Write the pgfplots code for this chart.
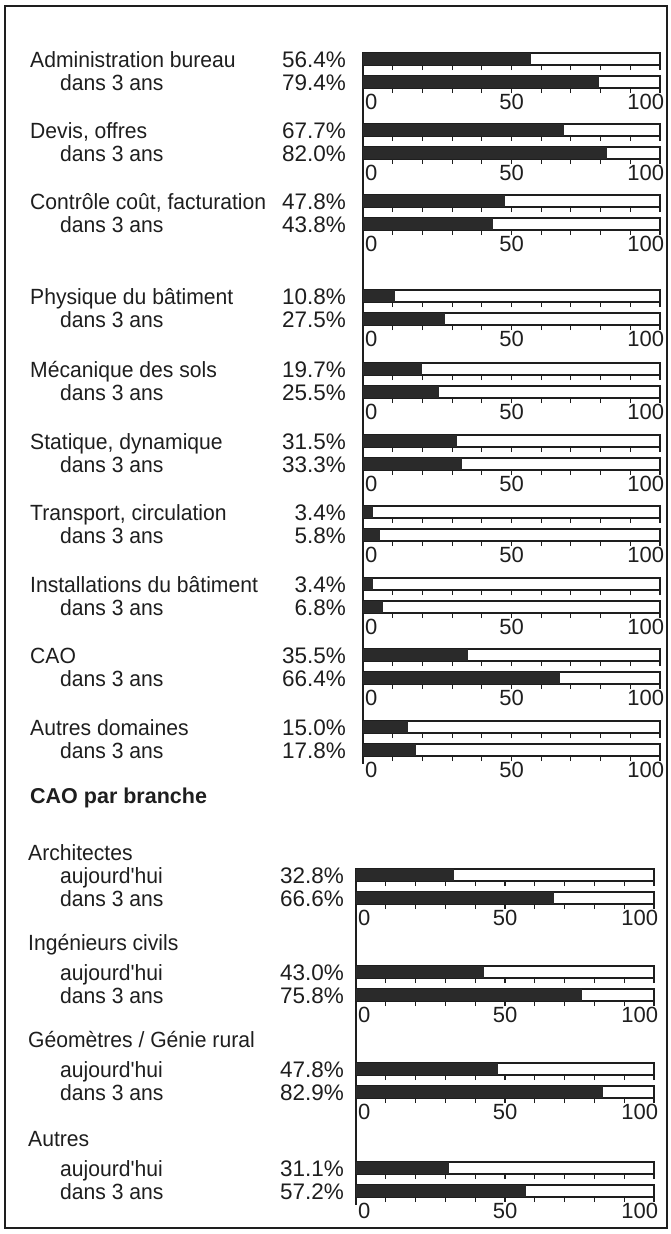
\documentclass[border=0pt]{standalone}
\usepackage{pgfplots}
\pgfplotsset{compat=1.18}
\usepackage{fontspec}
\setmainfont{Liberation Sans}
\newfontfamily\condfont{Liberation Sans}[FakeStretch=0.96]
\definecolor{ink}{HTML}{1E1E1E}
\definecolor{barc}{HTML}{2A2A2A}
\newcommand{\lbl}{\fontsize{22.5}{24}\selectfont}
\newcommand{\clbl}{\condfont\fontsize{22}{24}\selectfont}
\newcommand{\tlbl}{\fontsize{22}{24}\selectfont}
\pgfplotsset{
  brow/.style={scale only axis, width=297pt, height=12pt, anchor=north west,
    xmin=0, xmax=100, ymin=0, ymax=1,
    xtick={0,10,...,100}, ytick=\empty,
    xtick pos=left, tick align=outside, major tick length=5pt,
    axis line style={line width=1.2pt, draw=ink},
    tick style={line width=1.1pt, draw=ink},
    xticklabels={,,,,,,,,,,}},
  brow2/.style={brow, width=298pt},
  lab/.style={xticklabels={\rlap{\hspace{2pt}0},,,,,50,,,,,\llap{100\hspace{-4pt}}},
    xticklabel style={font=\tlbl, inner sep=1pt, text=ink}},
  dk/.style={xbar, bar width=12pt, bar shift=0pt, fill=barc, draw=none},
}
\begin{document}
\begin{tikzpicture}
\path (0pt,0pt) rectangle (671pt,-1234pt);
\draw[line width=1.4pt, ink] (5pt,-6pt) rectangle (667pt,-1228pt);
\draw[line width=1.2pt, ink] (363pt,-53pt) -- (363pt,-764pt);
\draw[line width=1.2pt, ink] (356pt,-869pt) -- (356pt,-1205pt);

% ---------- top section ----------
\begin{axis}[brow, at={(363pt,-53pt)}]\addplot[dk] coordinates {(56.4,0.5)};\end{axis}
\begin{axis}[brow, lab, at={(363pt,-76pt)}]\addplot[dk] coordinates {(79.4,0.5)};\end{axis}
\begin{axis}[brow, at={(363pt,-124pt)}]\addplot[dk] coordinates {(67.7,0.5)};\end{axis}
\begin{axis}[brow, lab, at={(363pt,-147pt)}]\addplot[dk] coordinates {(82.0,0.5)};\end{axis}
\begin{axis}[brow, at={(363pt,-195pt)}]\addplot[dk] coordinates {(47.8,0.5)};\end{axis}
\begin{axis}[brow, lab, at={(363pt,-218pt)}]\addplot[dk] coordinates {(43.8,0.5)};\end{axis}
\begin{axis}[brow, at={(363pt,-290pt)}]\addplot[dk] coordinates {(10.8,0.5)};\end{axis}
\begin{axis}[brow, lab, at={(363pt,-313pt)}]\addplot[dk] coordinates {(27.5,0.5)};\end{axis}
\begin{axis}[brow, at={(363pt,-363pt)}]\addplot[dk] coordinates {(19.7,0.5)};\end{axis}
\begin{axis}[brow, lab, at={(363pt,-386pt)}]\addplot[dk] coordinates {(25.5,0.5)};\end{axis}
\begin{axis}[brow, at={(363pt,-435pt)}]\addplot[dk] coordinates {(31.5,0.5)};\end{axis}
\begin{axis}[brow, lab, at={(363pt,-458pt)}]\addplot[dk] coordinates {(33.3,0.5)};\end{axis}
\begin{axis}[brow, at={(363pt,-506pt)}]\addplot[dk] coordinates {(3.4,0.5)};\end{axis}
\begin{axis}[brow, lab, at={(363pt,-529pt)}]\addplot[dk] coordinates {(5.8,0.5)};\end{axis}
\begin{axis}[brow, at={(363pt,-578pt)}]\addplot[dk] coordinates {(3.4,0.5)};\end{axis}
\begin{axis}[brow, lab, at={(363pt,-601pt)}]\addplot[dk] coordinates {(6.8,0.5)};\end{axis}
\begin{axis}[brow, at={(363pt,-649pt)}]\addplot[dk] coordinates {(35.5,0.5)};\end{axis}
\begin{axis}[brow, lab, at={(363pt,-672pt)}]\addplot[dk] coordinates {(66.4,0.5)};\end{axis}
\begin{axis}[brow, at={(363pt,-721pt)}]\addplot[dk] coordinates {(15.0,0.5)};\end{axis}
\begin{axis}[brow, lab, at={(363pt,-744pt)}]\addplot[dk] coordinates {(17.8,0.5)};\end{axis}

% ---------- bottom section ----------
\begin{axis}[brow2, at={(356pt,-869pt)}]\addplot[dk] coordinates {(32.8,0.5)};\end{axis}
\begin{axis}[brow2, lab, at={(356pt,-892pt)}]\addplot[dk] coordinates {(66.6,0.5)};\end{axis}
\begin{axis}[brow2, at={(356pt,-966pt)}]\addplot[dk] coordinates {(43.0,0.5)};\end{axis}
\begin{axis}[brow2, lab, at={(356pt,-989pt)}]\addplot[dk] coordinates {(75.8,0.5)};\end{axis}
\begin{axis}[brow2, at={(356pt,-1063pt)}]\addplot[dk] coordinates {(47.8,0.5)};\end{axis}
\begin{axis}[brow2, lab, at={(356pt,-1086pt)}]\addplot[dk] coordinates {(82.9,0.5)};\end{axis}
\begin{axis}[brow2, at={(356pt,-1162pt)}]\addplot[dk] coordinates {(31.1,0.5)};\end{axis}
\begin{axis}[brow2, lab, at={(356pt,-1185pt)}]\addplot[dk] coordinates {(57.2,0.5)};\end{axis}

% ---------- text ----------
\begin{scope}[every node/.style={font=\clbl, text=ink, inner sep=0pt}]
\node[anchor=base west] at (30pt,-67pt) {Administration bureau};
\node[anchor=base west] at (60pt,-90pt) {dans 3 ans};
\node[anchor=base west] at (30pt,-138pt) {Devis, offres};
\node[anchor=base west] at (60pt,-161pt) {dans 3 ans};
\node[anchor=base west] at (30pt,-209pt) {Contrôle coût, facturation};
\node[anchor=base west] at (60pt,-232pt) {dans 3 ans};
\node[anchor=base west] at (30pt,-304pt) {Physique du bâtiment};
\node[anchor=base west] at (60pt,-327pt) {dans 3 ans};
\node[anchor=base west] at (30pt,-377pt) {Mécanique des sols};
\node[anchor=base west] at (60pt,-400pt) {dans 3 ans};
\node[anchor=base west] at (30pt,-449pt) {Statique, dynamique};
\node[anchor=base west] at (60pt,-472pt) {dans 3 ans};
\node[anchor=base west] at (30pt,-520pt) {Transport, circulation};
\node[anchor=base west] at (60pt,-543pt) {dans 3 ans};
\node[anchor=base west] at (30pt,-592pt) {Installations du bâtiment};
\node[anchor=base west] at (60pt,-615pt) {dans 3 ans};
\node[anchor=base west] at (30pt,-663pt) {CAO};
\node[anchor=base west] at (60pt,-686pt) {dans 3 ans};
\node[anchor=base west] at (30pt,-735pt) {Autres domaines};
\node[anchor=base west] at (60pt,-758pt) {dans 3 ans};
\node[anchor=base west] at (28pt,-860pt) {Architectes};
\node[anchor=base west] at (60pt,-883pt) {aujourd'hui};
\node[anchor=base west] at (60pt,-906pt) {dans 3 ans};
\node[anchor=base west] at (28pt,-950pt) {Ingénieurs civils};
\node[anchor=base west] at (60pt,-980pt) {aujourd'hui};
\node[anchor=base west] at (60pt,-1003pt) {dans 3 ans};
\node[anchor=base west] at (28pt,-1047pt) {Géomètres / Génie rural};
\node[anchor=base west] at (60pt,-1077pt) {aujourd'hui};
\node[anchor=base west] at (60pt,-1100pt) {dans 3 ans};
\node[anchor=base west] at (28pt,-1146pt) {Autres};
\node[anchor=base west] at (60pt,-1176pt) {aujourd'hui};
\node[anchor=base west] at (60pt,-1199pt) {dans 3 ans};
\end{scope}
\begin{scope}[every node/.style={font=\lbl, text=ink, inner sep=0pt, anchor=base east}]
\node at (346pt,-67pt) {56.4\%};
\node at (346pt,-90pt) {79.4\%};
\node at (346pt,-138pt) {67.7\%};
\node at (346pt,-161pt) {82.0\%};
\node at (346pt,-209pt) {47.8\%};
\node at (346pt,-232pt) {43.8\%};
\node at (346pt,-304pt) {10.8\%};
\node at (346pt,-327pt) {27.5\%};
\node at (346pt,-377pt) {19.7\%};
\node at (346pt,-400pt) {25.5\%};
\node at (346pt,-449pt) {31.5\%};
\node at (346pt,-472pt) {33.3\%};
\node at (346pt,-520pt) {3.4\%};
\node at (346pt,-543pt) {5.8\%};
\node at (346pt,-592pt) {3.4\%};
\node at (346pt,-615pt) {6.8\%};
\node at (346pt,-663pt) {35.5\%};
\node at (346pt,-686pt) {66.4\%};
\node at (346pt,-735pt) {15.0\%};
\node at (346pt,-758pt) {17.8\%};
\node at (344pt,-883pt) {32.8\%};
\node at (344pt,-906pt) {66.6\%};
\node at (344pt,-980pt) {43.0\%};
\node at (344pt,-1003pt) {75.8\%};
\node at (344pt,-1077pt) {47.8\%};
\node at (344pt,-1100pt) {82.9\%};
\node at (344pt,-1176pt) {31.1\%};
\node at (344pt,-1199pt) {57.2\%};
\end{scope}
\node[anchor=base west, inner sep=0pt, text=ink, font=\fontsize{21.5}{24}\selectfont\bfseries] at (30pt,-803pt) {CAO par branche};
\end{tikzpicture}
\end{document}
